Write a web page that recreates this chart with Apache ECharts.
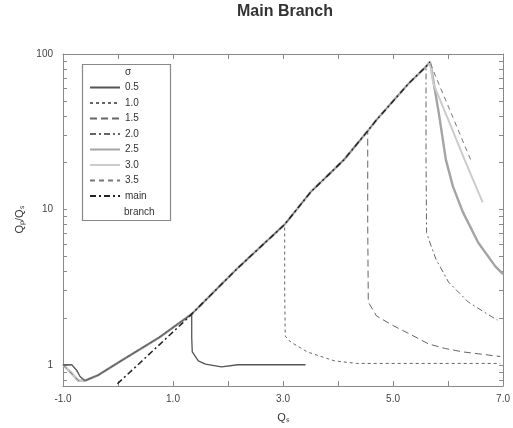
<!DOCTYPE html>
<html><head><meta charset="utf-8">
<script src="https://cdn.jsdelivr.net/npm/echarts@6/dist/echarts.min.js"></script>
<style>html,body{margin:0;padding:0;background:#fff}#c{width:513px;height:428px}</style>
</head><body><div id="c"></div>
<script>
// ---- data ----
const sigmaLabels = ['0.5', '1.0', '1.5', '2.0', '2.5', '3.0', '3.5'];
const xTickLabels = [-1, 1, 3, 5, 7];
const xTicks = [-1, 0, 1, 2, 3, 4, 5, 6, 7];
const yTickLabels = [1, 10, 100];
const yTicks = [0.8, 0.9, 1, 2, 3, 4, 5, 6, 7, 8, 9, 10, 20, 30, 40, 50, 60, 70, 80, 90, 100];

// start of every sigma curve (small loop near x = -1)
const loopX = [-1.0, -0.84, -0.75, -0.69, -0.6];
const loopY = [1.0, 1.0, 0.92, 0.84, 0.79];
const loopAltX = [-1.0, -0.95, -0.87, -0.72, -0.6];
const loopAltY = [1.0, 0.96, 0.9, 0.79, 0.79];
// common rising part (shared by all curves up to their drop)
const envX = [-0.37, 0.056, 0.75, 1.34, 2.18, 3.03, 3.5, 4.11, 4.54, 4.7, 5.29, 5.6, 5.67];
const envY = [0.854, 1.06, 1.5, 2.12, 4.2, 8.0, 12.9, 20.9, 32, 37.7, 65, 83, 89];

// branches after leaving the common curve
const b05X = [1.34, 1.34, 1.35, 1.46, 1.59, 1.88, 2.18, 3.41];
const b05Y = [2.12, 1.5, 1.21, 1.06, 1.01, 0.97, 1.0, 1.0];
const b10X = [3.03, 3.03, 3.04, 3.14, 3.44, 3.93, 4.34, 5.0, 6.95];
const b10Y = [8.0, 3.0, 1.53, 1.40, 1.21, 1.06, 1.02, 1.02, 1.02];
const b15X = [4.54, 4.54, 4.55, 4.70, 5.01, 5.30, 5.65, 5.96, 6.27, 6.86, 6.95];
const b15Y = [32, 8, 2.53, 2.06, 1.78, 1.58, 1.36, 1.27, 1.21, 1.14, 1.13];
const b20X = [5.60, 5.60, 5.61, 5.65, 5.78, 6.01, 6.37, 6.86, 6.90];
const b20Y = [83, 20, 7.1, 6.4, 4.78, 3.4, 2.53, 1.97, 1.94];
const b25X = [5.67, 5.69, 5.84, 5.96, 6.09, 6.27, 6.55, 6.86, 7.0];
const b25Y = [89, 83, 40, 20.9, 14.0, 9.6, 6.1, 4.3, 3.83];
const b30X = [5.67, 5.73, 6.05, 6.30, 6.63];
const b30Y = [89, 65, 34.5, 20.9, 11.1];
const b35X = [5.67, 5.78, 6.09, 6.41];
const b35Y = [89, 71, 39, 20.9];
// main branch (starts below, joins the common curve)
const mainX = [-0.01, 0.5, 0.92, 1.29];
const mainY = [0.755, 1.11, 1.53, 2.03];

// ---- build series data ----
function zip(xs, ys) { return xs.map((x, i) => [x, ys[i]]); }
function buildCurve(lx, ly, bx, by) {
  const pts = zip(lx, ly);
  const lastStart = lx[lx.length - 1];
  envX.forEach((x, i) => { if (x > lastStart && x < bx[0]) pts.push([x, envY[i]]); });
  return pts.concat(zip(bx, by));
}
const mainData = zip(mainX, mainY);
envX.forEach((x, i) => { if (x > mainX[mainX.length - 1]) mainData.push([x, envY[i]]); });

const FONT = 'Liberation Sans';
const AXC = '#8a8a8a';
function line(name, data, color, width, type, z) {
  return { name, type: 'line', data, symbol: 'none', showSymbol: false, z: z || 2,
    xAxisIndex: 0, yAxisIndex: 0, animation: false,
    lineStyle: { color, width, type }, itemStyle: { color } };
}
const series = [
  { name: 'σ', type: 'line', data: [], symbol: 'none' },
  line('2.5', buildCurve(loopAltX, loopAltY, b25X, b25Y), '#a4a4a4', 2.4, 'solid', 1),
  line('3.0', buildCurve(loopAltX, loopAltY, b30X, b30Y), '#cccccc', 2, 'solid', 1),
  line('0.5', buildCurve(loopX, loopY, b05X, b05Y), '#555', 1.3, 'solid'),
  line('1.0', buildCurve(loopX, loopY, b10X, b10Y), '#666', 1, [3, 3]),
  line('1.5', buildCurve(loopX, loopY, b15X, b15Y), '#666', 1, [7, 4]),
  line('2.0', buildCurve(loopX, loopY, b20X, b20Y), '#666', 1, [6, 3, 2, 3]),
  line('3.5', buildCurve(loopAltX, loopAltY, b35X, b35Y), '#777', 1, [5, 4]),
  line('main', mainData, '#222', 1.5, [6, 3, 2, 3], 3)
];

function axisBase() {
  return {
    axisLine: { show: true, onZero: false, lineStyle: { color: AXC, width: 1 } },
    splitLine: { show: false },
    axisLabel: { show: false },
    nameTextStyle: { fontFamily: FONT, fontSize: 11, color: '#333' }
  };
}
const chart = echarts.init(document.getElementById('c'), null, { renderer: 'canvas' });
chart.setOption({
  animation: false,
  backgroundColor: '#fff',
  title: { text: 'Main Branch', left: 285, top: 4, padding: 0, textAlign: 'center',
    textStyle: { fontFamily: FONT, fontSize: 16, fontWeight: 'bold', color: '#333' } },
  grid: { left: 63, right: 5, top: 54, bottom: 41 },
  legend: {
    orient: 'vertical', left: 89, top: 66, itemWidth: 30, itemHeight: 10, itemGap: 3.5,
    selectedMode: false, padding: 0,
    itemStyle: { color: 'rgba(0,0,0,0)', borderColor: 'rgba(0,0,0,0)', borderWidth: 0, opacity: 0 },
    textStyle: { fontFamily: FONT, fontSize: 10, color: '#333', lineHeight: 12 },
    data: [{ name: 'σ', icon: 'none' }].concat(sigmaLabels).concat(['main'])
  },
  graphic: [
    { type: 'rect', z: 0, shape: { x: 82.5, y: 64.5, width: 88, height: 156 },
      style: { fill: '#fff', stroke: '#888', lineWidth: 1.2 } },
    { type: 'text', z: 10, x: 124, y: 212,
      style: { text: 'branch', fontFamily: FONT, fontSize: 10, fill: '#333', verticalAlign: 'middle' } }
  ],
  xAxis: [
    Object.assign(axisBase(), {
      type: 'value', position: 'bottom', min: -1, max: 7, interval: 1,
      name: 'Qₛ', nameLocation: 'middle', nameGap: 26,
      axisTick: { show: true, inside: true, length: 5, lineStyle: { color: AXC }, customValues: xTicks },
      axisLabel: { show: true, customValues: xTickLabels, formatter: v => Number(v).toFixed(1),
        fontFamily: FONT, fontSize: 10, color: '#444', margin: 8 }
    }),
    Object.assign(axisBase(), {
      type: 'value', position: 'top', min: -1, max: 7, interval: 1,
      axisTick: { show: true, inside: true, length: 5, lineStyle: { color: AXC }, customValues: xTicks }
    })
  ],
  yAxis: [
    Object.assign(axisBase(), {
      type: 'log', position: 'left', min: 0.73, max: 100, logBase: 10,
      name: 'Qₚ/Qₛ', nameLocation: 'middle', nameGap: 38,
      axisTick: { show: true, inside: true, length: 4, lineStyle: { color: AXC }, customValues: yTicks },
      axisLabel: { show: true, customValues: yTickLabels, formatter: v => String(Math.round(v)),
        fontFamily: FONT, fontSize: 10, color: '#444', margin: 10 }
    }),
    Object.assign(axisBase(), {
      type: 'log', position: 'right', min: 0.73, max: 100, logBase: 10,
      axisTick: { show: true, inside: true, length: 4, lineStyle: { color: AXC }, customValues: yTicks }
    })
  ],
  series
});
</script>
</body></html>
